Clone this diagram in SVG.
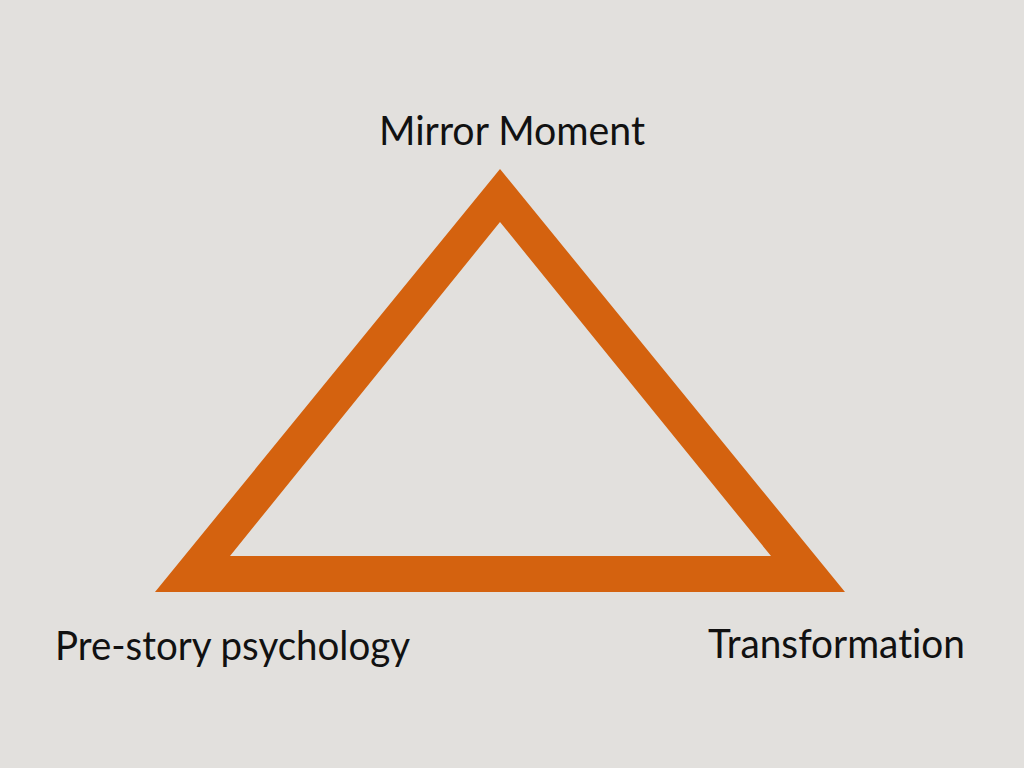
<svg xmlns="http://www.w3.org/2000/svg" width="1024" height="768" viewBox="0 0 1024 768">
  <style>
    .lbl { font-family: "Lato", "Open Sans", "Liberation Sans", sans-serif; font-size: 41px; fill: #111111; font-variant-ligatures: none; font-feature-settings: "liga" 0, "clig" 0; }
    .tri { fill: #D4620F; fill-rule: evenodd; }
  </style>
  <rect width="1024" height="768" fill="#E2E0DD"/>
  <g id="triangle">
    <path class="tri" d="M500,169 L845,592 L155,592 Z M500,222 L230,556 L771,556 Z"/>
  </g>
  <g id="node-mirror-moment">
    <text class="lbl" x="379" y="145" textLength="266" lengthAdjust="spacingAndGlyphs">Mirror Moment</text>
  </g>
  <g id="node-pre-story">
    <text class="lbl" x="55" y="660" textLength="355" lengthAdjust="spacingAndGlyphs">Pre-story psychology</text>
  </g>
  <g id="node-transformation">
    <text class="lbl" x="708" y="658" textLength="257" lengthAdjust="spacingAndGlyphs">Transformation</text>
  </g>
</svg>
